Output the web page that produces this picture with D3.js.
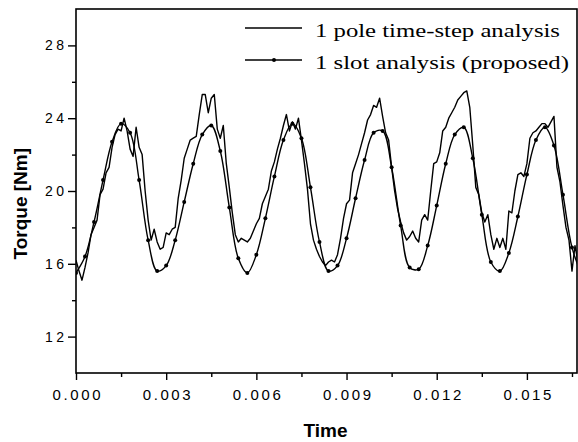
<!DOCTYPE html>
<html>
<head>
<meta charset="utf-8">
<script src="https://cdn.jsdelivr.net/npm/d3@7"></script>
<style>
    html, body { margin: 0; padding: 0; background: #fff; overflow: hidden; }
    svg { display: block; }
</style>
</head>
<body>
<div id="chart"></div>
<script>
// sample spacing (s) of each run
const poleStep = 0.0001;
const slotStep = 0.0003;

// 1 pole time-step analysis, torque [Nm]
const poleTorque = [
    16.2, 15.6, 15.1, 15.8, 16.6, 17.6, 18.0, 18.4, 19.8, 20.1,
    21.0, 21.3, 22.4, 23.1, 23.4, 23.3, 24.0, 23.3, 22.3, 21.9,
    23.5, 22.4, 22.0, 20.0, 18.4, 17.3, 17.9, 17.2, 16.8, 16.9,
    17.7, 17.6, 17.9, 18.0, 19.6, 20.6, 21.8, 22.3, 22.8, 22.9,
    23.0, 24.2, 25.3, 25.3, 24.3, 25.1, 25.3, 23.4, 22.9, 23.6,
    21.5, 20.2, 18.8, 17.6, 17.2, 17.4, 17.3, 17.2, 17.4, 17.8,
    18.2, 18.5, 19.3, 19.7, 20.1, 21.1, 21.6, 22.3, 22.9, 23.6,
    24.2, 23.3, 23.8, 23.4, 24.0, 22.8, 21.5, 20.1, 18.2, 17.3,
    16.8, 16.4, 16.1, 15.9, 16.1, 16.2, 16.1, 16.5, 17.4, 18.5,
    19.3, 19.5, 21.0, 21.5, 22.0, 22.6, 23.2, 23.9, 24.2, 24.7,
    24.6, 25.1, 24.1, 23.2, 22.8, 21.3, 20.0, 19.0, 18.3, 17.7,
    17.3, 17.5, 17.8, 17.4, 17.2, 18.4, 18.7, 18.4, 20.0, 21.5,
    21.6, 22.1, 23.3, 23.5, 24.0, 24.3, 24.6, 25.0, 25.2, 25.4,
    25.5, 24.6, 22.5, 20.2, 19.8, 18.8, 18.3, 18.7, 17.6, 16.8,
    17.4, 16.9, 17.4, 16.8, 18.9, 18.8, 20.0, 20.9, 21.0, 20.8,
    21.5, 22.9, 23.2, 23.3, 23.5, 23.7, 23.7, 23.5, 23.8, 24.1,
    21.3, 20.5, 19.2, 18.0, 17.3, 15.6, 17.0, 16.1
];

// 1 slot analysis (proposed), torque [Nm]
const slotTorque = [
    15.5, 16.4, 18.3, 20.6, 22.7, 23.7, 23.2, 20.6, 17.3, 15.6,
    15.9, 17.3, 19.4, 21.5, 23.1, 23.6, 22.2, 19.1, 16.3, 15.5,
    16.5, 18.5, 20.8, 22.8, 23.7, 22.9, 20.2, 17.2, 15.6, 15.9,
    17.4, 19.6, 21.7, 23.2, 23.3, 21.3, 18.1, 15.8, 15.7, 17.0,
    19.2, 21.5, 23.1, 23.5, 21.8, 18.7, 16.1, 15.6, 16.6, 18.6,
    20.9, 22.8, 23.5, 22.5, 19.8, 16.9, 15.5
];

const seriesNames = ["1 pole time-step analysis", "1 slot analysis (proposed)"];

const xTicks = [0, 0.003, 0.006, 0.009, 0.012, 0.015];
const xMinorTicks = [0.0015, 0.0045, 0.0075, 0.0105, 0.0135, 0.0165];
const yTicks = [12, 16, 20, 24, 28];
const yMinorTicks = [14, 18, 22, 26];

const xTitle = "Time";
const yTitle = "Torque [Nm]";

const sansFont = "'Liberation Sans', Arial, sans-serif";

const width = 578,
    height = 442,
    margin = { left: 76, right: 1, top: 9, bottom: 69 },
    innerWidth = width - margin.left - margin.right,
    innerHeight = height - margin.top - margin.bottom;

const poleData = poleTorque.map((v, i) => [i * poleStep, v]);
const slotData = slotTorque.map((v, i) => [i * slotStep, v]);

const svg = d3.select("#chart").append("svg")
    .attr("width", width)
    .attr("height", height)
    .style("font-family", sansFont);

const g = svg.append("g")
    .attr("transform", "translate(" + margin.left + "," + margin.top + ")");

// Scales
const xScale = d3.scaleLinear().domain([0, 1 / 60]).range([0, innerWidth]);
const yScale = d3.scaleLinear().domain([10, 30]).range([innerHeight, 0]);

g.append("clipPath").attr("id", "plot-clip")
    .append("rect")
    .attr("width", innerWidth)
    .attr("height", innerHeight);

// Axes
const xAxis = g.append("g")
    .attr("class", "x axis")
    .attr("transform", "translate(0," + innerHeight + ")")
    .call(d3.axisBottom(xScale).tickValues(xTicks).tickSize(7).tickPadding(9)
        .tickFormat(d3.format(".3f")));
const xMinor = g.append("g")
    .attr("transform", "translate(0," + innerHeight + ")")
    .call(d3.axisBottom(xScale).tickValues(xMinorTicks).tickSize(4).tickFormat(""));

const yAxis = g.append("g")
    .attr("class", "y axis")
    .call(d3.axisLeft(yScale).tickValues(yTicks).tickSize(8).tickPadding(4)
        .tickFormat(d3.format("d")));
const yMinor = g.append("g")
    .call(d3.axisLeft(yScale).tickValues(yMinorTicks).tickSize(4).tickFormat(""));

// minor ticks carry no labels
xMinor.selectAll("text").remove();
yMinor.selectAll("text").remove();

g.selectAll(".domain").remove();
g.selectAll(".tick line").attr("stroke", "#000").attr("stroke-width", 1.4);

xAxis.attr("font-family", sansFont).attr("font-size", 15);
xAxis.selectAll("text")
    .attr("fill", "#000")
    .attr("textLength", 48);
yAxis.attr("font-family", sansFont).attr("font-size", 14);
yAxis.selectAll("text")
    .attr("fill", "#000")
    .attr("textLength", 19);

// frame
g.append("rect")
    .attr("width", innerWidth)
    .attr("height", innerHeight)
    .attr("fill", "none")
    .attr("stroke", "#000")
    .attr("stroke-width", 1.6);

// Lines
const plot = g.append("g").attr("clip-path", "url(#plot-clip)");

const poleLine = d3.line()
    .x(d => xScale(d[0]))
    .y(d => yScale(d[1]));

const slotLine = d3.line()
    .curve(d3.curveCatmullRom)
    .x(d => xScale(d[0]))
    .y(d => yScale(d[1]));

plot.append("path")
    .attr("fill", "none")
    .attr("stroke", "#000")
    .attr("stroke-width", 1.4)
    .attr("stroke-linejoin", "round")
    .attr("d", poleLine(poleData));

plot.append("path")
    .attr("fill", "none")
    .attr("stroke", "#000")
    .attr("stroke-width", 1.4)
    .attr("d", slotLine(slotData));

plot.selectAll(".marker")
    .data(slotData)
    .enter().append("circle")
    .attr("class", "marker")
    .attr("cx", d => xScale(d[0]))
    .attr("cy", d => yScale(d[1]))
    .attr("r", 2)
    .attr("fill", "#000");

// Legend
const legend = g.append("g").attr("transform", "translate(169,19)");
seriesNames.forEach((name, i) => {
    const row = legend.append("g").attr("transform", "translate(0," + (i * 32) + ")");
    row.append("line")
        .attr("x1", 0).attr("x2", 57)
        .attr("stroke", "#000").attr("stroke-width", 1.4);
    if (i === 1) {
        row.append("circle").attr("cx", 29).attr("r", 2).attr("fill", "#000");
    }
    row.append("text")
        .attr("x", 70)
        .attr("y", 9)
        .attr("textLength", i === 0 ? 245 : 254)
        .attr("lengthAdjust", "spacingAndGlyphs")
        .style("font-family", "'Liberation Serif', 'Times New Roman', serif")
        .style("font-size", "19px")
        .text(name);
});

// Axis titles
svg.append("text")
    .attr("x", margin.left + xScale(0.0083))
    .attr("y", 437)
    .attr("text-anchor", "middle")
    .style("font-weight", "bold")
    .style("font-size", "19px")
    .text(xTitle);

svg.append("text")
    .attr("transform", "translate(27," + (margin.top + yScale(19.3)) + ") rotate(-90)")
    .attr("text-anchor", "middle")
    .style("font-weight", "bold")
    .style("font-size", "19px")
    .text(yTitle);
</script>
</body>
</html>
